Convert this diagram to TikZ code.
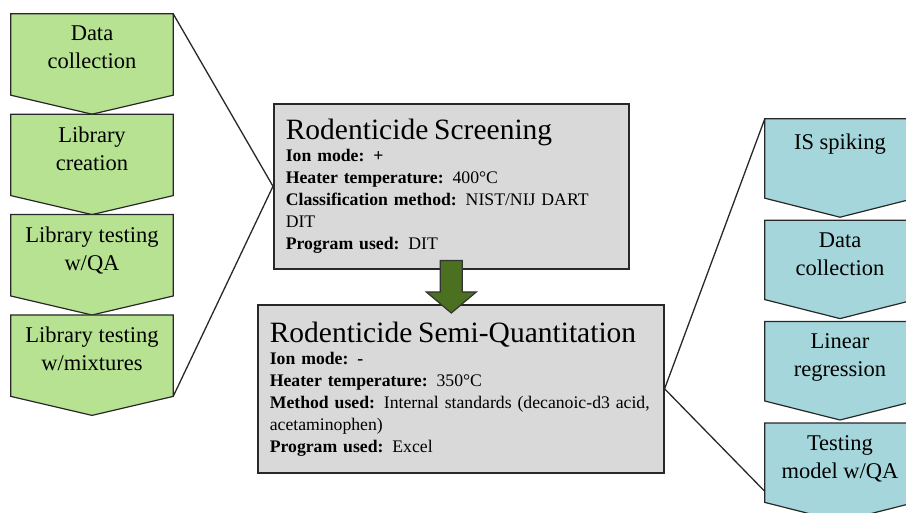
\documentclass[tikz,border=0pt]{standalone}
\usepackage{fontspec}
\setmainfont{Liberation Serif}
\usetikzlibrary{positioning, backgrounds}

\definecolor{libgreen}{RGB}{182,226,146}
\definecolor{fitteal}{RGB}{164,214,219}
\definecolor{boxgray}{RGB}{217,217,217}
\definecolor{arrowgreen}{RGB}{74,112,32}
\definecolor{edgegray}{RGB}{40,40,40}

\tikzset{
  chevleft/.style  = {rectangle, inner sep=0, minimum width=162pt, minimum height=81pt},
  chevright/.style = {rectangle, inner sep=0, minimum width=150pt, minimum height=79pt},
  chevlabel/.style = {anchor=north, yshift=-12pt, align=center, inner sep=0,
                      font=\fontsize{22.5}{28}\selectfont},
  libfill/.style   = {draw=edgegray, line width=1.2pt, fill=libgreen},
  fitfill/.style   = {draw=edgegray, line width=1.2pt, fill=fitteal},
  infobox/.style   = {draw=edgegray, line width=1.6pt, fill=boxgray, anchor=north west,
                      inner xsep=12pt, inner ysep=0, align=left,
                      font=\fontsize{17.7}{22}\selectfont},
  link/.style      = {draw=edgegray, line width=1.3pt},
  bigarrow/.style  = {draw=black!80, line width=1.2pt, fill=arrowgreen}
}

% chevron outline round a body node
\newcommand{\chevron}[2]{%
  \draw[#1] (#2.north west) -- (#2.north east) -- (#2.south east)
    -- ([yshift=-19pt]#2.south) -- (#2.south west) -- cycle;}

\newcommand{\boxtitle}[1]{{\fontsize{29.5}{30}\selectfont #1}}

\begin{document}
\begin{tikzpicture}[x=1pt, y=-1pt]

\useasboundingbox (0,0) rectangle (906,513);
\clip (0,0) rectangle (906,513);

% library steps
\node [chevleft, label={[chevlabel]north:{Data\\collection}}                  ] (libcol) at (92,54.5) {};
\node [chevleft, label={[chevlabel]north:{Library\\creation}}, below=19pt of libcol] (libcre) {};
\node [chevleft, label={[chevlabel]north:{Library testing\\w/QA}}, below=19pt of libcre] (libqa) {};
\node [chevleft, label={[chevlabel]north:{Library testing\\w/mixtures}}, below=19pt of libqa] (libmix) {};

% quantitation steps
\node [chevright, label={[chevlabel, yshift=-3pt]north:{IS spiking}}              ] (spike) at (840,158.5) {};
\node [chevright, label={[chevlabel]north:{Data\\collection}}, below=22pt of spike] (qcol) {};
\node [chevright, label={[chevlabel]north:{Linear\\regression}}, below=22pt of qcol] (linreg) {};
\node [chevright, label={[chevlabel]north:{Testing\\model w/QA}}, below=22pt of linreg] (qtest) {};

\begin{scope}[on background layer]
  \clip (0,0) rectangle (906,513);
  \chevron{libfill}{libcol}
  \chevron{libfill}{libcre}
  \chevron{libfill}{libqa}
  \chevron{libfill}{libmix}
  \chevron{fitfill}{spike}
  \chevron{fitfill}{qcol}
  \chevron{fitfill}{linreg}
  \chevron{fitfill}{qtest}
\end{scope}

% method boxes
\node [infobox, text width=331pt, minimum width=355pt, minimum height=165pt] (screen) at (273,103) {%
  \boxtitle{Rodenticide Screening}\\
  \textbf{Ion mode: +}\\
  \textbf{Heater temperature:} 400°C\\
  \textbf{Classification method:} NIST/NIJ DART\\
  DIT\\
  \textbf{Program used:} DIT};
\node [infobox, text width=382pt, minimum width=406pt, minimum height=168pt] (semiq) at (257,304) {%
  \boxtitle{Rodenticide Semi-Quantitation}\\
  \textbf{Ion mode: -}\\
  \textbf{Heater temperature:} 350°C\\
  \textbf{Method used:} Internal standards (decanoic-d3 acid,\\
  acetaminophen)\\
  \textbf{Program used:} Excel};

% connectors
\path [link] (libcol.north east) -- (screen.west);
\path [link] (libmix.south east) -- (screen.west);
\path [link] (semiq.east) -- (spike.north west);
\path [link] (semiq.east) -- ([yshift=11pt]qtest.south west);

% block arrow between the boxes
\coordinate (arrtop) at ([yshift=9pt]screen.south);
\coordinate (arrtip) at ([yshift=-9pt]arrtop |- semiq.north);
\draw [bigarrow] ([xshift=-11pt]arrtop) -- ([xshift=11pt]arrtop)
  -- ([xshift=11pt, yshift=21pt]arrtip) -- ([xshift=25pt, yshift=21pt]arrtip)
  -- (arrtip) -- ([xshift=-25pt, yshift=21pt]arrtip)
  -- ([xshift=-11pt, yshift=21pt]arrtip) -- cycle;

\end{tikzpicture}
\end{document}
